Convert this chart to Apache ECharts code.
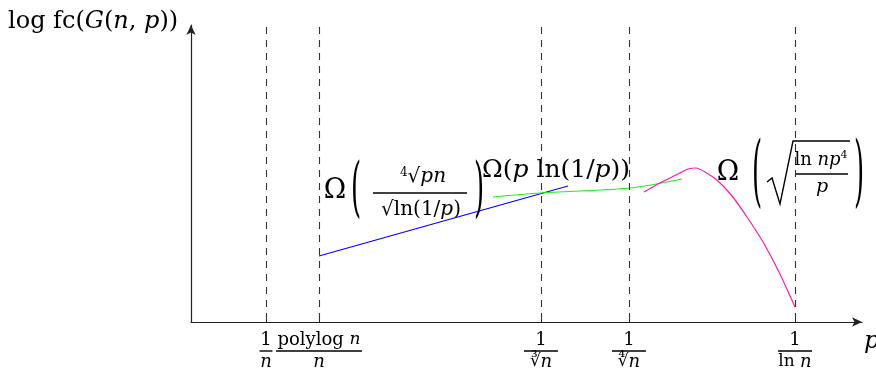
<!DOCTYPE html>
<html>
<head>
<meta charset="utf-8">
<title>log fc(G(n,p))</title>
<script src="https://cdn.jsdelivr.net/npm/echarts@6.0.0/dist/echarts.min.js"></script>
<style>
	html, body { margin: 0; padding: 0; background: #fff; }
	#main { width: 876px; height: 375px; }
</style>
</head>
<body>
<div id="main"></div>
<script>
	// 坐标刻度 (x 轴上的位置)
	var tickValues = [75, 128, 350, 438, 604];
	var tickLabels = [
		'{num|1}\n{bar1|}\n{deni|n}',
		'{num|polylog }{numi|n}\n{bar2|}\n{deni|n}',
		'{num|1}\n{bar3|}\n{den|∛}{deni|n}',
		'{num|1}\n{bar3|}\n{den|∜}{deni|n}',
		'{num|1}\n{bar3|}\n{den|ln }{deni|n}'
	];
	var guideTop = 295; // 虚线顶端

	// 蓝线
	var blueX = [128, 377];
	var blueY = [66, 136];
	// 绿线
	var greenX = [302, 349, 439, 491];
	var greenY = [125, 129, 134, 143];
	// 粉线
	var magentaX = [453, 469, 485, 497, 505, 514, 527, 541, 556, 572, 588, 604];
	var magentaY = [130, 139, 147, 153, 154, 150, 141, 126, 105, 80, 50, 15];

	var FONT = 'DejaVu Serif';

	function zip(xs, ys) {
		var out = [];
		for (var i = 0; i < xs.length; i++) out.push([xs[i], ys[i]]);
		return out;
	}

	var chart = echarts.init(document.getElementById('main'), null, { renderer: 'canvas' });

	var axisColor = '#222';
	var tickRich = {
		num: { fontFamily: FONT, fontSize: 18, lineHeight: 18, color: '#000' },
		numi: { fontFamily: FONT, fontSize: 17, lineHeight: 18, fontStyle: 'italic', color: '#000' },
		den: { fontFamily: FONT, fontSize: 17, lineHeight: 18, color: '#000' },
		deni: { fontFamily: FONT, fontSize: 18, lineHeight: 18, fontStyle: 'italic', color: '#000' },
		bar1: { width: 13, height: 1.4, lineHeight: 4, backgroundColor: '#000' },
		bar2: { width: 86, height: 1.4, lineHeight: 4, backgroundColor: '#000' },
		bar3: { width: 34, height: 1.4, lineHeight: 4, backgroundColor: '#000' }
	};

	// 括号 (纵向拉伸)
	function paren(ch, x, y, sy) {
		return {
			type: 'text', x: x, y: y, scaleY: sy, silent: true,
			style: { text: ch, fontFamily: FONT, fontSize: 26, fill: '#000', align: 'center', verticalAlign: 'middle' }
		};
	}
	function hline(x1, x2, y, w) {
		return {
			type: 'line', silent: true,
			shape: { x1: x1, y1: y, x2: x2, y2: y },
			style: { stroke: '#000', lineWidth: w || 1.3 }
		};
	}
	function txt(x, y, text, size, align, rich) {
		return {
			type: 'text', x: x, y: y, silent: true,
			style: {
				text: text, fontFamily: FONT, fontSize: size, fill: '#000',
				align: align || 'center', verticalAlign: 'middle', rich: rich
			}
		};
	}
	var itRich = function(size) {
		return {
			r: { fontFamily: FONT, fontSize: size, color: '#000' },
			i: { fontFamily: FONT, fontSize: size, fontStyle: 'italic', color: '#000' },
			s: { fontFamily: FONT, fontSize: Math.round(size * 0.62), color: '#000', verticalAlign: 'top', padding: [0, 0, 9, 0] }
		};
	};

	var graphics = [
		// y 轴标题
		txt(8, 22, '{r|log fc(}{i|G}{r|(}{i|n}{r|, }{i|p}{r|))}', 24, 'left', itRich(24)),
		// x 轴标题
		txt(864, 342, '{i|p}', 24, 'left', itRich(24)),

		// Ω( ∜pn / √ln(1/p) )
		txt(335, 191, 'Ω', 27),
		paren('(', 356, 192, 2.5),
		txt(423, 177, '{s|4}{r|√}{i|pn}', 20, 'center', itRich(20)),
		hline(373, 467, 193, 1.6),
		txt(421, 210, '{r|√ln(1/}{i|p}{r|)}', 20, 'center', itRich(20)),
		paren(')', 479, 192, 2.5),

		// Ω(p ln(1/p))
		txt(482, 170, '{r|Ω(}{i|p}{r| ln(1/}{i|p}{r|))}', 25, 'left', itRich(25)),

		// Ω( √(ln np^4 / p) )
		txt(728, 173, 'Ω', 27),
		paren('(', 757, 177, 3.0),
		{
			type: 'polyline', silent: true,
			shape: { points: [[767, 182], [772, 178], [780, 204], [793, 141], [850, 141]] },
			style: { stroke: '#000', lineWidth: 1.4, fill: null }
		},
		txt(821, 160, '{r|ln }{i|np}{s|4}', 18, 'center', itRich(18)),
		hline(795, 848, 174, 1.6),
		txt(822, 187, '{i|p}', 19, 'center', itRich(19)),
		paren(')', 859, 177, 3.0)
	];

	var guideLines = tickValues.map(function(v) {
		return [{ coord: [v, guideTop] }, { coord: [v, 0] }];
	});

	var option = {
		animation: false,
		backgroundColor: '#fff',
		grid: { left: 191, right: 14, top: 25, bottom: 53 },
		xAxis: {
			type: 'value', min: 0, max: 671,
			axisLine: {
				show: true, symbol: ['none', 'arrow'], symbolSize: [7, 10],
				lineStyle: { color: axisColor, width: 1.2 }
			},
			axisTick: {
				show: true, inside: true, length: 6, customValues: tickValues,
				lineStyle: { color: axisColor, width: 1 }
			},
			axisLabel: {
				show: true, customValues: tickValues, margin: 9,
				formatter: function(v) {
					var k = tickValues.indexOf(v);
					return k < 0 ? '' : tickLabels[k];
				},
				rich: tickRich
			},
			splitLine: { show: false }
		},
		yAxis: {
			type: 'value', min: 0, max: 297,
			axisLine: {
				show: true, symbol: ['none', 'arrow'], symbolSize: [7, 10],
				lineStyle: { color: axisColor, width: 1.2 }
			},
			axisTick: { show: false },
			axisLabel: { show: false },
			splitLine: { show: false }
		},
		series: [{
			name: 'blue', type: 'line', data: zip(blueX, blueY),
			showSymbol: false, lineStyle: { color: '#0000ff', width: 1.2 },
			markLine: {
				silent: true, symbol: ['none', 'none'], label: { show: false },
				lineStyle: { color: '#333', width: 1.1, type: [7, 6] },
				data: guideLines
			}
		}, {
			name: 'green', type: 'line', data: zip(greenX, greenY), smooth: 0.3,
			showSymbol: false, lineStyle: { color: '#22ee22', width: 1.2 }
		}, {
			name: 'magenta', type: 'line', data: zip(magentaX, magentaY), smooth: 0.25,
			showSymbol: false, lineStyle: { color: '#ff1aa8', width: 1.2 }
		}],
		graphic: graphics
	};

	chart.setOption(option);
</script>
</body>
</html>
